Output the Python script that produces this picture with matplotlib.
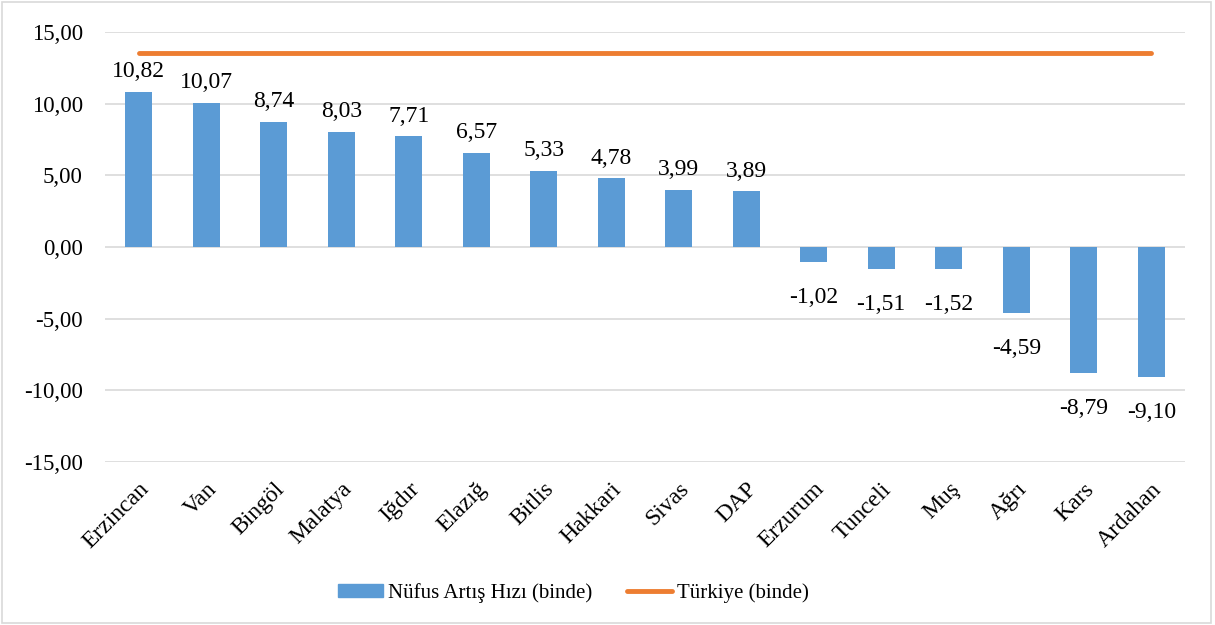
import matplotlib
matplotlib.use("Agg")
import matplotlib.pyplot as plt
from matplotlib.patches import Rectangle
from matplotlib.lines import Line2D
from matplotlib.transforms import ScaledTranslation
import numpy as np

# data
provinces = ["Erzincan", "Van", "Bingöl", "Malatya", "Iğdır", "Elazığ", "Bitlis",
             "Hakkari", "Sivas", "DAP", "Erzurum", "Tunceli", "Muş", "Ağrı",
             "Kars", "Ardahan"]
growth = [10.82, 10.07, 8.74, 8.03, 7.71, 6.57, 5.33, 4.78, 3.99, 3.89,
          -1.02, -1.51, -1.52, -4.59, -8.79, -9.10]
turkey = [13.52] * len(provinces)
yticks = [-15, -10, -5, 0, 5, 10, 15]

BLUE = "#5b9bd5"
ORANGE = "#ed7d31"

plt.rcParams.update({
    "font.family": ["Liberation Serif", "DejaVu Serif"],
    "font.size": 15,
})

fig = plt.figure(figsize=(12.15, 6.25), dpi=100)
ax = fig.add_axes([0.0864, 0.2608, 0.8889, 0.688])

x = np.arange(len(provinces))
ax.bar(x, growth, width=0.4, color=BLUE, zorder=3)
ax.plot(x, turkey, color=ORANGE, linewidth=3.5, solid_capstyle="round", zorder=4)

for xi, v in zip(x, growth):
    lbl = f"{v:.2f}".replace(".", ",")
    if v >= 0:
        ax.annotate(lbl, (xi, v), xytext=(0, 7), textcoords="offset points",
                    ha="center", va="bottom", fontsize=17)
    else:
        ax.annotate(lbl, (xi, v), xytext=(0, -18), textcoords="offset points",
                    ha="center", va="top", fontsize=17)

ax.set_xlim(-0.5, len(provinces) - 0.5)
ax.set_ylim(-15, 15)
ax.set_yticks(yticks)
ax.set_yticklabels([f"{t:.2f}".replace(".", ",") for t in yticks], fontsize=16.5)
ax.set_xticks(x)
ax.set_xticklabels(provinces, rotation=45, ha="right", rotation_mode="anchor", fontsize=17)
shift = ScaledTranslation(-4 / 72, 0, fig.dpi_scale_trans)
for lab in ax.get_xticklabels():
    lab.set_transform(lab.get_transform() + shift)
ax.tick_params(axis="both", length=0)
ax.tick_params(axis="y", pad=16)
ax.tick_params(axis="x", pad=12)
ax.grid(axis="y", color="#d9d9d9", linewidth=1.2, zorder=0)
for s in ax.spines.values():
    s.set_visible(False)

handles = [Rectangle((0, 0), 1, 1, color=BLUE),
           Line2D([0], [0], color=ORANGE, linewidth=3.5, solid_capstyle="round")]
fig.legend(handles, ["Nüfus Artış Hızı (binde)", "Türkiye (binde)"],
           loc="center", bbox_to_anchor=(0.4717, 0.051), ncol=2, frameon=False,
           fontsize=15, handlelength=2.16, handleheight=0.6, columnspacing=1.68,
           handletextpad=0.24)

fig.add_artist(Rectangle((0.002, 0.003), 0.995, 0.994, transform=fig.transFigure,
                         fill=False, edgecolor="#d9d9d9", linewidth=1.2))

fig.savefig("out.png", dpi=100)
